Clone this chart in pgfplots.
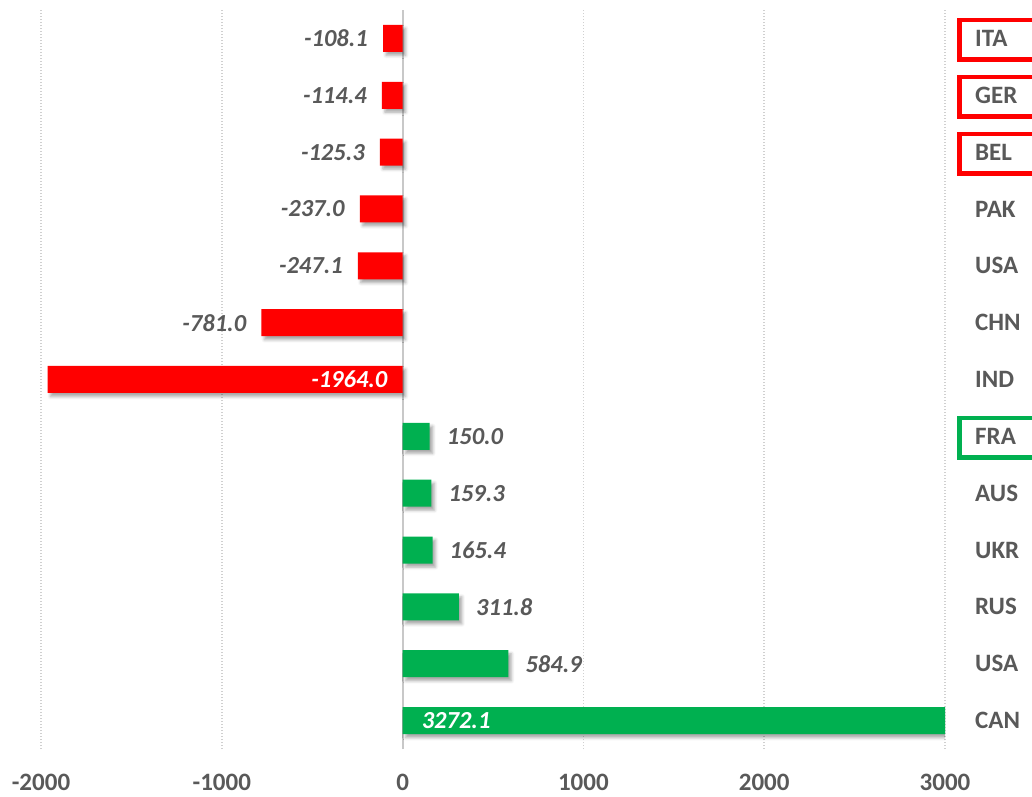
\documentclass[border=0pt]{standalone}
\usepackage{fontspec}
\setmainfont{Carlito}
\usepackage{pgfplots}
\pgfplotsset{compat=1.18}
\usetikzlibrary{shadows.blur}
\definecolor{negred}{HTML}{FF0000}
\definecolor{posgreen}{HTML}{00B050}
\definecolor{txt}{HTML}{595959}
\definecolor{gridc}{HTML}{D0D0D0}
\definecolor{zeroc}{HTML}{C8C8C8}
\newcommand\lblfont{\fontsize{25bp}{30bp}\selectfont\bfseries}
\newcommand\valfont{\fontsize{24.5bp}{30bp}\selectfont\bfseries\itshape}
\tikzset{barshadow/.style={blur shadow={shadow xshift=3bp, shadow yshift=-3.5bp,
  shadow blur radius=3bp, shadow opacity=35}}}
\begin{document}
\begin{tikzpicture}
\useasboundingbox (0,0) rectangle (1032bp,797bp);
\begin{axis}[
  at={(41bp,48bp)}, anchor=south west,
  scale only axis, width=904bp, height=739bp,
  xmin=-2000, xmax=3000, ymin=-0.5, ymax=12.5,
  xtick={-2000,-1000,0,1000,2000,3000},
  ytick={0,...,12},
  yticklabels={CAN,USA,RUS,UKR,AUS,FRA,IND,CHN,USA,PAK,BEL,GER,ITA},
  yticklabel pos=right,
  axis line style={draw=none},
  major tick length=0pt,
  xmajorgrids,
  grid style={gridc, line width=1.5bp, dash pattern=on 1.5bp off 1.5bp},
  extra x ticks={0}, extra x tick labels={},
  extra x tick style={grid style={zeroc, line width=2bp, solid}},
  tick label style={font=\lblfont, text=txt},
  xticklabel style={anchor=center, inner sep=0pt, yshift=-33bp},
  yticklabel style={anchor=west, inner sep=0pt, xshift=30bp},
  /pgf/number format/assume math mode=true,
  /pgf/number format/1000 sep={},
]
% bars
\addplot[xbar, bar width=27bp, bar shift=0pt, fill=negred, draw=none, barshadow]
  coordinates {(-108.1,12) (-114.4,11) (-125.3,10) (-237.0,9) (-247.1,8) (-781.0,7) (-1964.0,6)};
\addplot[xbar, bar width=27bp, bar shift=0pt, fill=posgreen, draw=none, barshadow]
  coordinates {(150.0,5) (159.3,4) (165.4,3) (311.8,2) (584.9,1) (3272.1,0)};
% value labels outside the bars
\addplot[draw=none, mark=none, nodes near coords, point meta=explicit symbolic,
  nodes near coords style={anchor=east, inner sep=0pt, xshift=-15bp, font=\valfont, text=txt}]
  coordinates {(-108.1,12) [-108.1] (-114.4,11) [-114.4] (-125.3,10) [-125.3]
               (-237.0,9) [-237.0] (-247.1,8) [-247.1] (-781.0,7) [-781.0]};
\addplot[draw=none, mark=none, nodes near coords, point meta=explicit symbolic,
  nodes near coords style={anchor=west, inner sep=0pt, xshift=17bp, font=\valfont, text=txt}]
  coordinates {(150.0,5) [150.0] (159.3,4) [159.3] (165.4,3) [165.4]
               (311.8,2) [311.8] (584.9,1) [584.9]};
% value labels inside the bars
\addplot[draw=none, mark=none, nodes near coords, point meta=explicit symbolic,
  nodes near coords style={anchor=east, inner sep=0pt, xshift=-15bp, font=\valfont, text=white}]
  coordinates {(0,6) [-1964.0]};
\addplot[draw=none, mark=none, nodes near coords, point meta=explicit symbolic,
  nodes near coords style={anchor=west, inner sep=0pt, xshift=19bp, font=\valfont, text=white}]
  coordinates {(0,0) [3272.1]};
\coordinate (ita) at (axis cs:3000,12);
\coordinate (ger) at (axis cs:3000,11);
\coordinate (bel) at (axis cs:3000,10);
\coordinate (fra) at (axis cs:3000,5);
\end{axis}
\foreach \c in {ita,ger,bel}
  \draw[negred, line width=4.5bp] (\c) ++(14.25bp,-21.25bp) rectangle ++(120bp,39.5bp);
\draw[posgreen, line width=4.5bp] (fra) ++(14.25bp,-21.25bp) rectangle ++(120bp,39.5bp);
\end{tikzpicture}
\end{document}
